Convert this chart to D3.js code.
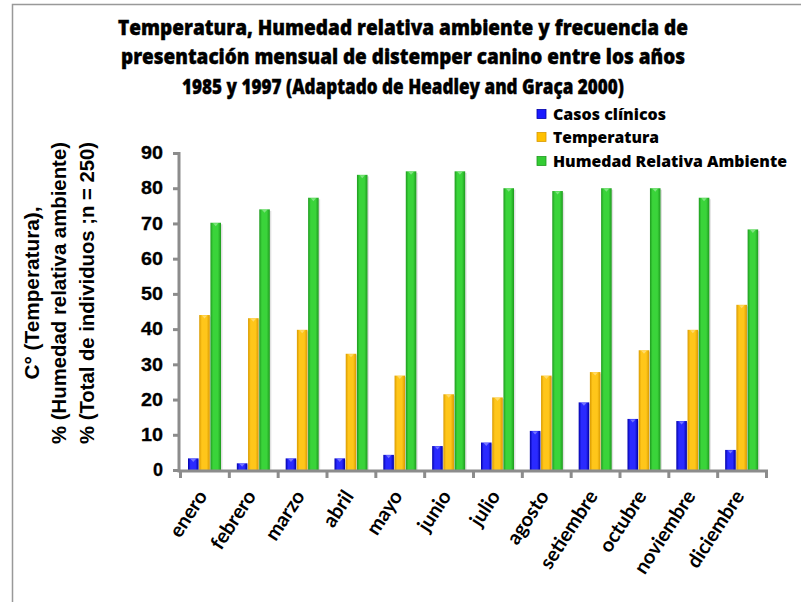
<!DOCTYPE html>
<html><head><meta charset="utf-8">
<script src="https://cdn.jsdelivr.net/npm/d3@7"></script>
<style>html,body{margin:0;padding:0;background:#fff;}svg{display:block;}</style>
</head><body>
<script>
const months = ["enero","febrero","marzo","abril","mayo","junio","julio","agosto","setiembre","octubre","noviembre","diciembre"];
const seriesNames = ["Casos clínicos","Temperatura","Humedad Relativa Ambiente"];
const casos = [3.3,1.9,3.3,3.3,4.3,6.8,7.8,11.1,19.2,14.5,13.9,5.7];
const temperatura = [44.0,43.1,39.8,33.0,26.8,21.5,20.6,26.8,27.8,34.0,39.8,46.9];
const humedad = [70.2,74.0,77.3,83.8,84.8,84.8,80.0,79.2,80.0,80.0,77.3,68.3];
const yTicks = [0,10,20,30,40,50,60,70,80,90];
const titleLines = ["Temperatura, Humedad relativa ambiente y frecuencia de","presentación mensual de distemper canino entre los años","1985 y 1997  (Adaptado de  Headley and Graça 2000)"];
const yTitleLines = ["C° (Temperatura),","% (Humedad relativa ambiente)","% (Total de individuos ;n = 250)"];

const W=801,H=602;
const svg=d3.select("body").append("svg").attr("width",W).attr("height",H);
const defs=svg.append("defs");
const colors=[
  {id:"gB",edge:"#0000a8",mid:"#2a2aff"},
  {id:"gO",edge:"#d99a00",mid:"#ffc61a"},
  {id:"gG",edge:"#1e9a1e",mid:"#3ad43a"}
];
colors.forEach(c=>{
  const g=defs.append("linearGradient").attr("id",c.id).attr("x1","0").attr("x2","1").attr("y1","0").attr("y2","0");
  g.append("stop").attr("offset","0").attr("stop-color",c.edge);
  g.append("stop").attr("offset","0.25").attr("stop-color",c.mid);
  g.append("stop").attr("offset","0.7").attr("stop-color",c.mid);
  g.append("stop").attr("offset","1").attr("stop-color",c.edge);
});
const legendFill=["#1a1aff","#ffc000","#33cc33"];

// border (top & left visible)
svg.append("path").attr("d","M12.5,602 L12.5,4.5 L801,4.5").attr("fill","none").attr("stroke","#999").attr("stroke-width",1.5);

// title
const tLens=[570,564,442];
const tY=[35,64,94];
titleLines.forEach((t,i)=>{
  svg.append("text").attr("x",403).attr("y",tY[i]).attr("text-anchor","middle")
    .attr("font-family","'Open Sans', Lato, sans-serif").attr("font-weight",800).attr("font-size",21)
    .attr("stroke","#000").attr("stroke-width",0.4)
    .attr("textLength",tLens[i]).attr("lengthAdjust","spacingAndGlyphs").text(t);
});

const x0=d3.scaleBand().domain(months).range([180.5,766.5]).paddingInner(0).paddingOuter(0);
const x1=d3.scaleBand().domain([0,1,2]).range([7.5,40.5]).paddingInner(0.06);
const y=d3.scaleLinear().domain([0,90]).range([470,153]);

const data=[casos,temperatura,humedad];
const plot=svg.append("g");
months.forEach((m,i)=>{
  data.forEach((s,k)=>{
    const bx=x0(m)+x1(k), bw=x1.bandwidth(), by=y(s[i]);
    plot.append("rect").attr("x",bx+1.5).attr("y",by+1.5).attr("width",bw).attr("height",y(0)-by-1.5)
      .attr("fill","#000").attr("opacity",0.12);
    plot.append("rect").attr("x",bx).attr("y",by).attr("width",bw).attr("height",y(0)-by)
      .attr("fill","url(#"+colors[k].id+")");
    plot.append("path").attr("d",`M${bx+bw*0.25},${by+0.5} L${bx+bw*0.75},${by+0.5} L${bx+bw*0.5},${by+3.5} Z`)
      .attr("fill","#fff").attr("opacity",0.35);
  });
});

// axes
const axisColor="#8c8c8c";
const yAxis=d3.axisLeft(y).tickValues(yTicks).tickSize(6).tickPadding(10).tickFormat(d3.format("d"));
const gy=svg.append("g").attr("transform","translate(179,0)").call(yAxis);
gy.select(".domain").attr("stroke",axisColor).attr("stroke-width",3).attr("d","M-5,153.5H0V471");
gy.selectAll(".tick line").attr("stroke",axisColor).attr("stroke-width",3);
gy.selectAll(".tick text").attr("font-family","'Liberation Sans', Arial, sans-serif").attr("font-weight","bold")
  .attr("font-size",18).attr("fill","#000").attr("stroke","#000").attr("stroke-width",0.3)
  .attr("textLength",22).attr("lengthAdjust","spacingAndGlyphs");
gy.selectAll(".tick text").filter(d=>d===0).attr("textLength",null);

const gx=svg.append("g").attr("transform","translate(0,471)");
gx.append("line").attr("x1",177.5).attr("x2",768).attr("y1",0).attr("y2",0).attr("stroke",axisColor).attr("stroke-width",3);
const bounds=months.map(m=>x0(m)).concat([x0.range()[1]]);
gx.selectAll("line.tk").data(bounds).join("line").attr("class","tk")
  .attr("x1",d=>d).attr("x2",d=>d).attr("y1",0).attr("y2",7).attr("stroke",axisColor).attr("stroke-width",3);
gx.selectAll("text.lbl").data(months).join("text").attr("class","lbl")
  .attr("transform",d=>`translate(${x0(d)+x0.bandwidth()/2+3},${25}) rotate(-57)`)
  .attr("text-anchor","end")
  .attr("font-family","Lato, 'Open Sans', sans-serif").attr("font-weight","bold").attr("font-size",20)
  .attr("fill","#000").text(d=>d);

// y title
const ytX=[39,66,94];
const ytLens=[173,302,302];
yTitleLines.forEach((t,i)=>{
  svg.append("text").attr("transform",`translate(${ytX[i]},293) rotate(-90)`).attr("text-anchor","middle")
    .attr("font-family","'Liberation Sans', Arial, sans-serif").attr("font-weight","bold").attr("font-size",20)
    .attr("textLength",ytLens[i]).attr("lengthAdjust","spacingAndGlyphs")
    .attr("fill","#000").text(t);
});

// legend
const legY=[114,137,161];
const legLens=[113,106,234];
seriesNames.forEach((n,k)=>{
  svg.append("rect").attr("x",537).attr("y",legY[k]-4.5).attr("width",9).attr("height",9).attr("fill",legendFill[k])
    .attr("stroke",colors[k].edge).attr("stroke-width",0.8);
  svg.append("text").attr("x",553).attr("y",legY[k]+6)
    .attr("font-family","'Open Sans', Lato, sans-serif").attr("font-weight",800).attr("font-size",16)
    .attr("textLength",legLens[k]).attr("lengthAdjust","spacingAndGlyphs").attr("fill","#000").text(n);
});
</script>
</body></html>
